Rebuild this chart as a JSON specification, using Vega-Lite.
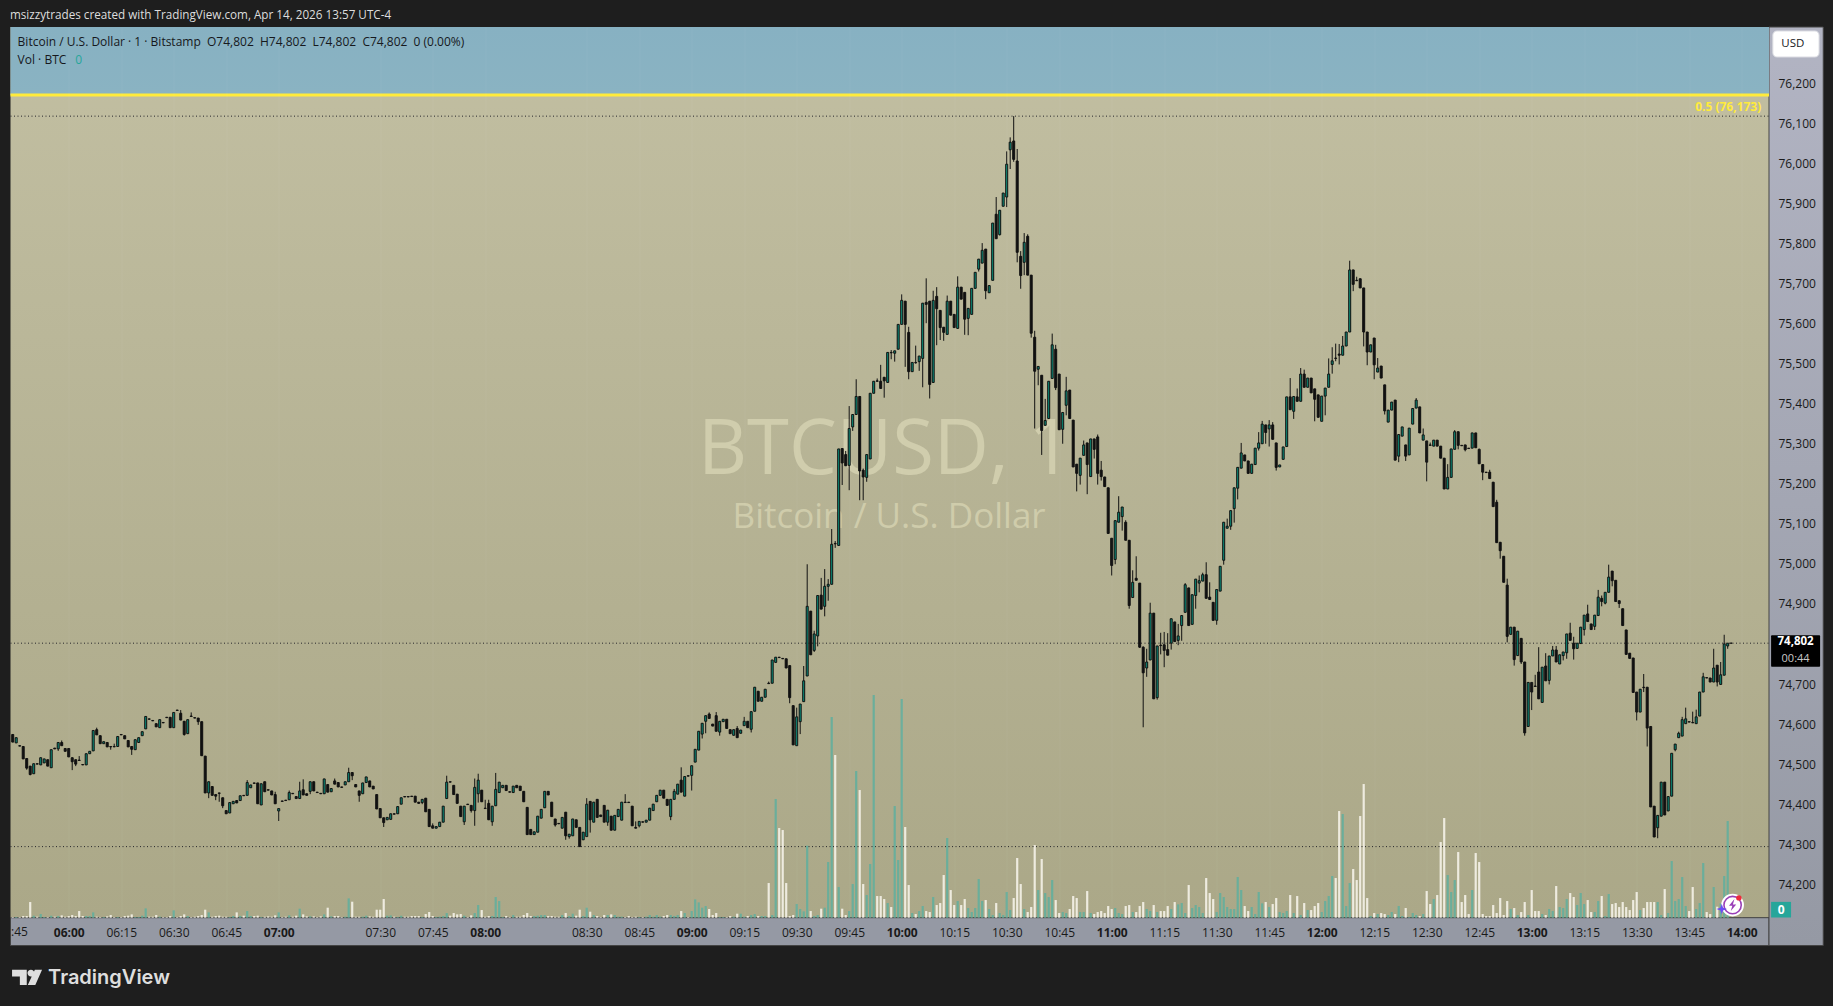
{"$schema":"https://vega.github.io/schema/vega-lite/v6.json","autosize":{"type":"none"},"width":1758.5,"height":890.7,"padding":{"left":10.5,"top":27,"right":64,"bottom":88.3},"background":"#1e1e1e","view":{"stroke":null,"fill":{"gradient":"linear","x1":0,"y1":0,"x2":0,"y2":1,"stops":[{"offset":0,"color":"#c2bfa2"},{"offset":1,"color":"#aba888"}]}},"datasets":{"bars":[
{"i":-16,"o":74574,"h":74574,"l":74555,"c":74555,"v":2},{"i":-15,"o":74553,"h":74566,"l":74553,"c":74566,"v":2},{"i":-14,"o":74546,"h":74546,"l":74545,"c":74545,"v":2},{"i":-13,"o":74544,"h":74544,"l":74513,"c":74513,"v":5},{"i":-12,"o":74514,"h":74514,"l":74486,"c":74490,"v":5},{"i":-11,"o":74495,"h":74495,"l":74472,"c":74474,"v":47},{"i":-10,"o":74476,"h":74501,"l":74476,"c":74501,"v":6},{"i":-9,"o":74501,"h":74501,"l":74500,"c":74500,"v":3},{"i":-8,"o":74498,"h":74516,"l":74498,"c":74516,"v":11},{"i":-7,"o":74503,"h":74513,"l":74503,"c":74513,"v":2},{"i":-6,"o":74511,"h":74511,"l":74495,"c":74495,"v":2},{"i":-5,"o":74491,"h":74536,"l":74491,"c":74536,"v":6},{"i":-4,"o":74540,"h":74540,"l":74538,"c":74538,"v":3},{"i":-3,"o":74538,"h":74554,"l":74533,"c":74554,"v":5},{"i":-2,"o":74554,"h":74559,"l":74546,"c":74546,"v":7},{"i":-1,"o":74539,"h":74539,"l":74532,"c":74532,"v":3},
{"i":0,"o":74539,"h":74539,"l":74518,"c":74518,"v":5},{"i":1,"o":74516,"h":74516,"l":74485,"c":74506,"v":8},{"i":2,"o":74511,"h":74511,"l":74495,"c":74500,"v":5},{"i":3,"o":74510,"h":74520,"l":74508,"c":74509,"v":20},{"i":4,"o":74499,"h":74499,"l":74498,"c":74498,"v":5},{"i":5,"o":74498,"h":74526,"l":74498,"c":74526,"v":5},{"i":6,"o":74526,"h":74532,"l":74526,"c":74532,"v":5},{"i":7,"o":74533,"h":74584,"l":74533,"c":74584,"v":16},{"i":8,"o":74586,"h":74591,"l":74573,"c":74573,"v":3},{"i":9,"o":74571,"h":74571,"l":74551,"c":74551,"v":2},{"i":10,"o":74551,"h":74556,"l":74551,"c":74556,"v":2},{"i":11,"o":74554,"h":74554,"l":74543,"c":74543,"v":4},{"i":12,"o":74544,"h":74544,"l":74536,"c":74543,"v":8},{"i":13,"o":74544,"h":74551,"l":74543,"c":74543,"v":2},{"i":14,"o":74544,"h":74569,"l":74544,"c":74569,"v":2},{"i":15,"o":74574,"h":74574,"l":74573,"c":74573,"v":2},{"i":16,"o":74571,"h":74571,"l":74563,"c":74563,"v":5},{"i":17,"o":74559,"h":74559,"l":74543,"c":74543,"v":6},{"i":18,"o":74544,"h":74544,"l":74523,"c":74537,"v":10},{"i":19,"o":74536,"h":74561,"l":74536,"c":74561,"v":2},{"i":20,"o":74554,"h":74566,"l":74554,"c":74566,"v":2},{"i":21,"o":74571,"h":74581,"l":74571,"c":74581,"v":6},{"i":22,"o":74588,"h":74619,"l":74588,"c":74619,"v":28},{"i":23,"o":74613,"h":74613,"l":74612,"c":74612,"v":3},{"i":24,"o":74609,"h":74609,"l":74608,"c":74608,"v":3},{"i":25,"o":74601,"h":74601,"l":74593,"c":74593,"v":8},{"i":26,"o":74591,"h":74611,"l":74591,"c":74611,"v":3},{"i":27,"o":74604,"h":74604,"l":74603,"c":74603,"v":2},{"i":28,"o":74617,"h":74617,"l":74616,"c":74616,"v":2},{"i":29,"o":74617,"h":74617,"l":74591,"c":74591,"v":5},{"i":30,"o":74591,"h":74629,"l":74591,"c":74629,"v":22},{"i":31,"o":74635,"h":74635,"l":74634,"c":74634,"v":2},{"i":32,"o":74627,"h":74635,"l":74610,"c":74610,"v":5},{"i":33,"o":74607,"h":74607,"l":74571,"c":74574,"v":10},{"i":34,"o":74576,"h":74611,"l":74576,"c":74611,"v":5},{"i":35,"o":74620,"h":74629,"l":74619,"c":74619,"v":2},{"i":36,"o":74616,"h":74616,"l":74615,"c":74615,"v":3},{"i":37,"o":74615,"h":74615,"l":74598,"c":74606,"v":5},{"i":38,"o":74606,"h":74606,"l":74521,"c":74521,"v":8},{"i":39,"o":74520,"h":74520,"l":74428,"c":74428,"v":24},{"i":40,"o":74428,"h":74456,"l":74415,"c":74456,"v":16},{"i":41,"o":74444,"h":74444,"l":74422,"c":74422,"v":3},{"i":42,"o":74424,"h":74424,"l":74410,"c":74420,"v":5},{"i":43,"o":74428,"h":74428,"l":74406,"c":74427,"v":6},{"i":44,"o":74416,"h":74416,"l":74390,"c":74396,"v":3},{"i":45,"o":74384,"h":74384,"l":74376,"c":74376,"v":3},{"i":46,"o":74378,"h":74404,"l":74378,"c":74404,"v":2},{"i":47,"o":74401,"h":74407,"l":74401,"c":74407,"v":5},{"i":48,"o":74409,"h":74409,"l":74403,"c":74403,"v":16},{"i":49,"o":74409,"h":74421,"l":74409,"c":74421,"v":5},{"i":50,"o":74422,"h":74422,"l":74421,"c":74421,"v":6},{"i":51,"o":74422,"h":74460,"l":74422,"c":74454,"v":20},{"i":52,"o":74441,"h":74448,"l":74441,"c":74448,"v":5},{"i":53,"o":74453,"h":74453,"l":74452,"c":74452,"v":5},{"i":54,"o":74453,"h":74453,"l":74401,"c":74401,"v":6},{"i":55,"o":74398,"h":74451,"l":74398,"c":74451,"v":2},{"i":56,"o":74456,"h":74456,"l":74431,"c":74431,"v":3},{"i":57,"o":74436,"h":74436,"l":74435,"c":74435,"v":4},{"i":58,"o":74433,"h":74433,"l":74423,"c":74423,"v":3},{"i":59,"o":74424,"h":74431,"l":74401,"c":74401,"v":7},{"i":60,"o":74383,"h":74389,"l":74358,"c":74389,"v":16},{"i":61,"o":74408,"h":74408,"l":74407,"c":74407,"v":2},{"i":62,"o":74410,"h":74410,"l":74409,"c":74409,"v":3},{"i":63,"o":74411,"h":74434,"l":74411,"c":74429,"v":7},{"i":64,"o":74427,"h":74427,"l":74426,"c":74426,"v":3},{"i":65,"o":74419,"h":74419,"l":74414,"c":74414,"v":6},{"i":66,"o":74414,"h":74456,"l":74414,"c":74433,"v":27},{"i":67,"o":74436,"h":74462,"l":74423,"c":74423,"v":10},{"i":68,"o":74426,"h":74426,"l":74422,"c":74422,"v":4},{"i":69,"o":74432,"h":74456,"l":74425,"c":74456,"v":4},{"i":70,"o":74456,"h":74456,"l":74433,"c":74433,"v":4},{"i":71,"o":74430,"h":74430,"l":74429,"c":74429,"v":2},{"i":72,"o":74427,"h":74427,"l":74426,"c":74426,"v":4},{"i":73,"o":74426,"h":74463,"l":74426,"c":74463,"v":10},{"i":74,"o":74449,"h":74449,"l":74430,"c":74430,"v":30},{"i":75,"o":74431,"h":74439,"l":74431,"c":74439,"v":4},{"i":76,"o":74458,"h":74464,"l":74450,"c":74450,"v":5},{"i":77,"o":74454,"h":74454,"l":74443,"c":74443,"v":5},{"i":78,"o":74443,"h":74443,"l":74442,"c":74442,"v":2},{"i":79,"o":74448,"h":74456,"l":74448,"c":74456,"v":3},{"i":80,"o":74456,"h":74491,"l":74456,"c":74479,"v":58},{"i":81,"o":74479,"h":74479,"l":74460,"c":74471,"v":48},{"i":82,"o":74449,"h":74449,"l":74443,"c":74443,"v":3},{"i":83,"o":74433,"h":74433,"l":74406,"c":74422,"v":3},{"i":84,"o":74426,"h":74453,"l":74426,"c":74453,"v":3},{"i":85,"o":74454,"h":74468,"l":74454,"c":74468,"v":6},{"i":86,"o":74458,"h":74458,"l":74443,"c":74443,"v":4},{"i":87,"o":74445,"h":74445,"l":74438,"c":74438,"v":3},{"i":88,"o":74424,"h":74424,"l":74388,"c":74388,"v":24},{"i":89,"o":74389,"h":74389,"l":74366,"c":74366,"v":24},{"i":90,"o":74366,"h":74366,"l":74343,"c":74354,"v":56},{"i":91,"o":74361,"h":74367,"l":74361,"c":74367,"v":6},{"i":92,"o":74362,"h":74376,"l":74362,"c":74376,"v":7},{"i":93,"o":74376,"h":74376,"l":74375,"c":74375,"v":3},{"i":94,"o":74376,"h":74394,"l":74376,"c":74394,"v":2},{"i":95,"o":74400,"h":74416,"l":74400,"c":74416,"v":6},{"i":96,"o":74419,"h":74419,"l":74418,"c":74418,"v":3},{"i":97,"o":74419,"h":74419,"l":74418,"c":74418,"v":3},{"i":98,"o":74420,"h":74420,"l":74419,"c":74419,"v":5},{"i":99,"o":74420,"h":74420,"l":74405,"c":74405,"v":5},{"i":100,"o":74405,"h":74405,"l":74402,"c":74402,"v":5},{"i":101,"o":74404,"h":74412,"l":74400,"c":74412,"v":2},{"i":102,"o":74415,"h":74415,"l":74381,"c":74381,"v":11},{"i":103,"o":74387,"h":74387,"l":74344,"c":74344,"v":17},{"i":104,"o":74346,"h":74352,"l":74340,"c":74340,"v":5},{"i":105,"o":74340,"h":74344,"l":74340,"c":74344,"v":2},{"i":106,"o":74344,"h":74355,"l":74344,"c":74355,"v":3},{"i":107,"o":74355,"h":74395,"l":74355,"c":74395,"v":5},{"i":108,"o":74414,"h":74471,"l":74414,"c":74455,"v":14},{"i":109,"o":74456,"h":74456,"l":74455,"c":74455,"v":6},{"i":110,"o":74447,"h":74447,"l":74424,"c":74424,"v":14},{"i":111,"o":74425,"h":74425,"l":74402,"c":74402,"v":10},{"i":112,"o":74395,"h":74395,"l":74369,"c":74369,"v":11},{"i":113,"o":74356,"h":74395,"l":74348,"c":74395,"v":6},{"i":114,"o":74400,"h":74400,"l":74399,"c":74399,"v":2},{"i":115,"o":74397,"h":74397,"l":74379,"c":74384,"v":7},{"i":116,"o":74384,"h":74464,"l":74346,"c":74442,"v":14},{"i":117,"o":74426,"h":74476,"l":74404,"c":74460,"v":38},{"i":118,"o":74435,"h":74435,"l":74406,"c":74406,"v":23},{"i":119,"o":74390,"h":74411,"l":74389,"c":74389,"v":3},{"i":120,"o":74402,"h":74411,"l":74361,"c":74361,"v":5},{"i":121,"o":74356,"h":74395,"l":74346,"c":74395,"v":5},{"i":122,"o":74396,"h":74478,"l":74396,"c":74437,"v":62},{"i":123,"o":74429,"h":74455,"l":74429,"c":74455,"v":50},{"i":124,"o":74441,"h":74447,"l":74441,"c":74447,"v":2},{"i":125,"o":74447,"h":74447,"l":74434,"c":74434,"v":5},{"i":126,"o":74431,"h":74431,"l":74430,"c":74430,"v":2},{"i":127,"o":74429,"h":74445,"l":74429,"c":74445,"v":8},{"i":128,"o":74447,"h":74447,"l":74441,"c":74441,"v":3},{"i":129,"o":74445,"h":74445,"l":74434,"c":74434,"v":3},{"i":130,"o":74432,"h":74432,"l":74406,"c":74406,"v":8},{"i":131,"o":74392,"h":74392,"l":74324,"c":74324,"v":14},{"i":132,"o":74337,"h":74337,"l":74324,"c":74324,"v":5},{"i":133,"o":74324,"h":74331,"l":74324,"c":74331,"v":5},{"i":134,"o":74330,"h":74370,"l":74330,"c":74370,"v":6},{"i":135,"o":74365,"h":74387,"l":74365,"c":74387,"v":8},{"i":136,"o":74391,"h":74432,"l":74391,"c":74432,"v":8},{"i":137,"o":74432,"h":74432,"l":74423,"c":74423,"v":5},{"i":138,"o":74405,"h":74405,"l":74369,"c":74369,"v":5},{"i":139,"o":74363,"h":74363,"l":74344,"c":74348,"v":3},{"i":140,"o":74352,"h":74352,"l":74351,"c":74351,"v":3},{"i":141,"o":74340,"h":74367,"l":74340,"c":74367,"v":8},{"i":142,"o":74380,"h":74380,"l":74311,"c":74321,"v":14},{"i":143,"o":74319,"h":74325,"l":74314,"c":74325,"v":5},{"i":144,"o":74321,"h":74363,"l":74321,"c":74363,"v":12},{"i":145,"o":74361,"h":74361,"l":74342,"c":74342,"v":6},{"i":146,"o":74342,"h":74342,"l":74294,"c":74294,"v":24},{"i":147,"o":74311,"h":74330,"l":74311,"c":74330,"v":5},{"i":148,"o":74319,"h":74415,"l":74319,"c":74400,"v":30},{"i":149,"o":74407,"h":74407,"l":74329,"c":74361,"v":18},{"i":150,"o":74355,"h":74405,"l":74355,"c":74405,"v":8},{"i":151,"o":74412,"h":74412,"l":74367,"c":74367,"v":5},{"i":152,"o":74373,"h":74373,"l":74369,"c":74369,"v":2},{"i":153,"o":74397,"h":74397,"l":74355,"c":74355,"v":8},{"i":154,"o":74355,"h":74385,"l":74346,"c":74385,"v":8},{"i":155,"o":74370,"h":74370,"l":74335,"c":74335,"v":10},{"i":156,"o":74335,"h":74372,"l":74335,"c":74372,"v":8},{"i":157,"o":74369,"h":74387,"l":74369,"c":74387,"v":3},{"i":158,"o":74360,"h":74405,"l":74360,"c":74405,"v":3},{"i":159,"o":74405,"h":74425,"l":74404,"c":74404,"v":2},{"i":160,"o":74405,"h":74405,"l":74404,"c":74404,"v":5},{"i":161,"o":74395,"h":74395,"l":74346,"c":74346,"v":2},{"i":162,"o":74342,"h":74357,"l":74340,"c":74340,"v":3},{"i":163,"o":74346,"h":74357,"l":74342,"c":74357,"v":2},{"i":164,"o":74356,"h":74356,"l":74355,"c":74355,"v":2},{"i":165,"o":74355,"h":74360,"l":74355,"c":74360,"v":3},{"i":166,"o":74360,"h":74390,"l":74360,"c":74390,"v":8},{"i":167,"o":74384,"h":74400,"l":74384,"c":74400,"v":3},{"i":168,"o":74406,"h":74422,"l":74406,"c":74422,"v":8},{"i":169,"o":74422,"h":74435,"l":74422,"c":74435,"v":3},{"i":170,"o":74435,"h":74435,"l":74415,"c":74415,"v":5},{"i":171,"o":74412,"h":74412,"l":74397,"c":74397,"v":8},{"i":172,"o":74369,"h":74412,"l":74360,"c":74412,"v":8},{"i":173,"o":74412,"h":74438,"l":74412,"c":74432,"v":5},{"i":174,"o":74425,"h":74450,"l":74425,"c":74450,"v":8},{"i":175,"o":74460,"h":74492,"l":74430,"c":74430,"v":20},{"i":176,"o":74420,"h":74469,"l":74420,"c":74469,"v":14},{"i":177,"o":74471,"h":74471,"l":74470,"c":74470,"v":2},{"i":178,"o":74472,"h":74496,"l":74434,"c":74496,"v":20},{"i":179,"o":74505,"h":74537,"l":74505,"c":74537,"v":55},{"i":180,"o":74535,"h":74582,"l":74535,"c":74582,"v":46},{"i":181,"o":74575,"h":74602,"l":74564,"c":74602,"v":30},{"i":182,"o":74607,"h":74621,"l":74577,"c":74621,"v":35},{"i":183,"o":74625,"h":74629,"l":74614,"c":74614,"v":26},{"i":184,"o":74600,"h":74600,"l":74595,"c":74595,"v":8},{"i":185,"o":74621,"h":74630,"l":74582,"c":74582,"v":14},{"i":186,"o":74580,"h":74607,"l":74571,"c":74607,"v":2},{"i":187,"o":74606,"h":74612,"l":74606,"c":74612,"v":2},{"i":188,"o":74612,"h":74612,"l":74589,"c":74589,"v":2},{"i":189,"o":74586,"h":74586,"l":74576,"c":74576,"v":5},{"i":190,"o":74572,"h":74586,"l":74572,"c":74586,"v":3},{"i":191,"o":74589,"h":74595,"l":74566,"c":74566,"v":12},{"i":192,"o":74577,"h":74585,"l":74577,"c":74585,"v":12},{"i":193,"o":74596,"h":74618,"l":74596,"c":74607,"v":3},{"i":194,"o":74607,"h":74607,"l":74591,"c":74591,"v":5},{"i":195,"o":74587,"h":74631,"l":74579,"c":74631,"v":8},{"i":196,"o":74632,"h":74692,"l":74632,"c":74692,"v":11},{"i":197,"o":74682,"h":74682,"l":74657,"c":74657,"v":5},{"i":198,"o":74657,"h":74667,"l":74657,"c":74667,"v":5},{"i":199,"o":74667,"h":74687,"l":74667,"c":74687,"v":5},{"i":200,"o":74702,"h":74706,"l":74701,"c":74701,"v":104},{"i":201,"o":74702,"h":74760,"l":74702,"c":74760,"v":8},{"i":202,"o":74754,"h":74767,"l":74754,"c":74767,"v":356},{"i":203,"o":74767,"h":74767,"l":74766,"c":74766,"v":269},{"i":204,"o":74764,"h":74764,"l":74763,"c":74763,"v":263},{"i":205,"o":74763,"h":74763,"l":74740,"c":74740,"v":104},{"i":206,"o":74746,"h":74746,"l":74652,"c":74666,"v":5},{"i":207,"o":74646,"h":74646,"l":74548,"c":74548,"v":8},{"i":208,"o":74546,"h":74641,"l":74546,"c":74618,"v":41},{"i":209,"o":74606,"h":74650,"l":74575,"c":74650,"v":26},{"i":210,"o":74656,"h":74745,"l":74656,"c":74708,"v":19},{"i":211,"o":74720,"h":74999,"l":74720,"c":74894,"v":216},{"i":212,"o":74882,"h":74882,"l":74773,"c":74773,"v":20},{"i":213,"o":74784,"h":74833,"l":74780,"c":74825,"v":5},{"i":214,"o":74820,"h":74921,"l":74794,"c":74921,"v":8},{"i":215,"o":74922,"h":74965,"l":74887,"c":74887,"v":27},{"i":216,"o":74894,"h":74987,"l":74869,"c":74944,"v":30},{"i":217,"o":74944,"h":74962,"l":74908,"c":74949,"v":167},{"i":218,"o":74949,"h":75087,"l":74949,"c":75049,"v":602},{"i":219,"o":75051,"h":75057,"l":75040,"c":75050,"v":488},{"i":220,"o":75046,"h":75287,"l":75046,"c":75287,"v":92},{"i":221,"o":75288,"h":75288,"l":75197,"c":75252,"v":27},{"i":222,"o":75273,"h":75282,"l":75245,"c":75245,"v":8},{"i":223,"o":75246,"h":75394,"l":75184,"c":75338,"v":20},{"i":224,"o":75342,"h":75373,"l":75332,"c":75373,"v":101},{"i":225,"o":75373,"h":75461,"l":75373,"c":75418,"v":440},{"i":226,"o":75418,"h":75418,"l":75159,"c":75232,"v":383},{"i":227,"o":75234,"h":75238,"l":75159,"c":75217,"v":101},{"i":228,"o":75216,"h":75273,"l":75205,"c":75273,"v":68},{"i":229,"o":75262,"h":75426,"l":75262,"c":75426,"v":161},{"i":230,"o":75426,"h":75456,"l":75426,"c":75456,"v":668},{"i":231,"o":75457,"h":75463,"l":75456,"c":75456,"v":65},{"i":232,"o":75456,"h":75497,"l":75438,"c":75438,"v":65},{"i":233,"o":75466,"h":75466,"l":75415,"c":75457,"v":56},{"i":234,"o":75453,"h":75528,"l":75453,"c":75528,"v":44},{"i":235,"o":75528,"h":75534,"l":75511,"c":75527,"v":32},{"i":236,"o":75526,"h":75532,"l":75505,"c":75532,"v":335},{"i":237,"o":75536,"h":75598,"l":75536,"c":75598,"v":173},{"i":238,"o":75598,"h":75673,"l":75598,"c":75658,"v":656},{"i":239,"o":75656,"h":75656,"l":75492,"c":75598,"v":272},{"i":240,"o":75578,"h":75592,"l":75461,"c":75480,"v":98},{"i":241,"o":75480,"h":75503,"l":75480,"c":75503,"v":14},{"i":242,"o":75503,"h":75545,"l":75500,"c":75502,"v":11},{"i":243,"o":75505,"h":75519,"l":75482,"c":75519,"v":20},{"i":244,"o":75513,"h":75651,"l":75441,"c":75651,"v":35},{"i":245,"o":75653,"h":75713,"l":75601,"c":75648,"v":20},{"i":246,"o":75656,"h":75656,"l":75413,"c":75448,"v":17},{"i":247,"o":75453,"h":75682,"l":75453,"c":75658,"v":62},{"i":248,"o":75668,"h":75691,"l":75546,"c":75637,"v":38},{"i":249,"o":75633,"h":75633,"l":75559,"c":75590,"v":44},{"i":250,"o":75591,"h":75591,"l":75557,"c":75578,"v":128},{"i":251,"o":75573,"h":75670,"l":75573,"c":75656,"v":239},{"i":252,"o":75656,"h":75656,"l":75621,"c":75621,"v":83},{"i":253,"o":75623,"h":75623,"l":75590,"c":75590,"v":38},{"i":254,"o":75588,"h":75718,"l":75588,"c":75691,"v":50},{"i":255,"o":75691,"h":75691,"l":75661,"c":75661,"v":38},{"i":256,"o":75678,"h":75678,"l":75572,"c":75611,"v":56},{"i":257,"o":75613,"h":75638,"l":75571,"c":75638,"v":29},{"i":258,"o":75623,"h":75688,"l":75623,"c":75688,"v":17},{"i":259,"o":75688,"h":75728,"l":75688,"c":75728,"v":29},{"i":260,"o":75736,"h":75761,"l":75730,"c":75761,"v":116},{"i":261,"o":75751,"h":75801,"l":75751,"c":75783,"v":50},{"i":262,"o":75786,"h":75786,"l":75661,"c":75682,"v":53},{"i":263,"o":75677,"h":75695,"l":75677,"c":75695,"v":26},{"i":264,"o":75708,"h":75851,"l":75708,"c":75851,"v":8},{"i":265,"o":75873,"h":75916,"l":75812,"c":75812,"v":44},{"i":266,"o":75822,"h":75883,"l":75820,"c":75883,"v":14},{"i":267,"o":75893,"h":75926,"l":75893,"c":75926,"v":8},{"i":268,"o":75916,"h":76030,"l":75891,"c":75998,"v":77},{"i":269,"o":76034,"h":76065,"l":75986,"c":76053,"v":23},{"i":270,"o":76056,"h":76118,"l":76004,"c":76010,"v":59},{"i":271,"o":76006,"h":76036,"l":75753,"c":75778,"v":179},{"i":272,"o":75768,"h":75781,"l":75687,"c":75720,"v":101},{"i":273,"o":75753,"h":75826,"l":75721,"c":75803,"v":26},{"i":274,"o":75818,"h":75823,"l":75721,"c":75721,"v":17},{"i":275,"o":75721,"h":75721,"l":75565,"c":75576,"v":32},{"i":276,"o":75566,"h":75582,"l":75338,"c":75481,"v":218},{"i":277,"o":75486,"h":75493,"l":75446,"c":75493,"v":83},{"i":278,"o":75471,"h":75471,"l":75272,"c":75333,"v":176},{"i":279,"o":75346,"h":75412,"l":75346,"c":75358,"v":74},{"i":280,"o":75363,"h":75456,"l":75363,"c":75456,"v":62},{"i":281,"o":75463,"h":75575,"l":75463,"c":75547,"v":113},{"i":282,"o":75536,"h":75547,"l":75434,"c":75440,"v":53},{"i":283,"o":75474,"h":75474,"l":75335,"c":75335,"v":14},{"i":284,"o":75336,"h":75378,"l":75300,"c":75378,"v":17},{"i":285,"o":75396,"h":75467,"l":75371,"c":75432,"v":14},{"i":286,"o":75434,"h":75434,"l":75363,"c":75363,"v":26},{"i":287,"o":75359,"h":75359,"l":75242,"c":75242,"v":65},{"i":288,"o":75249,"h":75249,"l":75181,"c":75226,"v":59},{"i":289,"o":75221,"h":75264,"l":75198,"c":75264,"v":17},{"i":290,"o":75271,"h":75308,"l":75271,"c":75297,"v":17},{"i":291,"o":75302,"h":75302,"l":75174,"c":75248,"v":80},{"i":292,"o":75218,"h":75312,"l":75218,"c":75312,"v":14},{"i":293,"o":75312,"h":75312,"l":75263,"c":75286,"v":11},{"i":294,"o":75317,"h":75323,"l":75198,"c":75226,"v":17},{"i":295,"o":75234,"h":75257,"l":75208,"c":75218,"v":20},{"i":296,"o":75217,"h":75217,"l":75193,"c":75193,"v":14},{"i":297,"o":75190,"h":75190,"l":75076,"c":75076,"v":35},{"i":298,"o":75064,"h":75064,"l":74971,"c":74996,"v":26},{"i":299,"o":75011,"h":75108,"l":74999,"c":75108,"v":29},{"i":300,"o":75104,"h":75169,"l":75104,"c":75129,"v":14},{"i":301,"o":75118,"h":75142,"l":75083,"c":75142,"v":11},{"i":302,"o":75104,"h":75109,"l":75059,"c":75059,"v":35},{"i":303,"o":75059,"h":75059,"l":74888,"c":74896,"v":38},{"i":304,"o":74916,"h":74984,"l":74916,"c":74954,"v":17},{"i":305,"o":74964,"h":75019,"l":74959,"c":74959,"v":17},{"i":306,"o":74952,"h":74952,"l":74790,"c":74792,"v":35},{"i":307,"o":74792,"h":74794,"l":74592,"c":74728,"v":47},{"i":308,"o":74740,"h":74788,"l":74718,"c":74755,"v":26},{"i":309,"o":74760,"h":74903,"l":74760,"c":74877,"v":20},{"i":310,"o":74877,"h":74877,"l":74663,"c":74663,"v":38},{"i":311,"o":74666,"h":74795,"l":74661,"c":74795,"v":17},{"i":312,"o":74797,"h":74828,"l":74774,"c":74796,"v":20},{"i":313,"o":74798,"h":74830,"l":74742,"c":74784,"v":20},{"i":314,"o":74786,"h":74827,"l":74772,"c":74772,"v":35},{"i":315,"o":74802,"h":74863,"l":74786,"c":74863,"v":26},{"i":316,"o":74855,"h":74855,"l":74806,"c":74806,"v":47},{"i":317,"o":74809,"h":74850,"l":74797,"c":74820,"v":40},{"i":318,"o":74846,"h":74871,"l":74808,"c":74871,"v":44},{"i":319,"o":74879,"h":74952,"l":74879,"c":74948,"v":14},{"i":320,"o":74940,"h":74940,"l":74846,"c":74846,"v":98},{"i":321,"o":74849,"h":74923,"l":74849,"c":74923,"v":29},{"i":322,"o":74921,"h":74962,"l":74888,"c":74962,"v":38},{"i":323,"o":74952,"h":74971,"l":74929,"c":74958,"v":32},{"i":324,"o":74957,"h":74978,"l":74957,"c":74973,"v":14},{"i":325,"o":74973,"h":75004,"l":74914,"c":74914,"v":119},{"i":326,"o":74917,"h":74954,"l":74911,"c":74911,"v":74},{"i":327,"o":74904,"h":74904,"l":74859,"c":74859,"v":56},{"i":328,"o":74859,"h":74936,"l":74848,"c":74936,"v":17},{"i":329,"o":74932,"h":74994,"l":74932,"c":74994,"v":74},{"i":330,"o":75009,"h":75104,"l":74998,"c":75104,"v":62},{"i":331,"o":75089,"h":75113,"l":75089,"c":75094,"v":32},{"i":332,"o":75094,"h":75133,"l":75085,"c":75133,"v":26},{"i":333,"o":75138,"h":75190,"l":75103,"c":75190,"v":26},{"i":334,"o":75189,"h":75241,"l":75161,"c":75241,"v":122},{"i":335,"o":75239,"h":75302,"l":75239,"c":75277,"v":83},{"i":336,"o":75272,"h":75272,"l":75257,"c":75257,"v":35},{"i":337,"o":75257,"h":75257,"l":75226,"c":75226,"v":20},{"i":338,"o":75226,"h":75249,"l":75226,"c":75249,"v":32},{"i":339,"o":75248,"h":75289,"l":75248,"c":75289,"v":11},{"i":340,"o":75289,"h":75329,"l":75283,"c":75302,"v":77},{"i":341,"o":75300,"h":75357,"l":75300,"c":75349,"v":43},{"i":342,"o":75347,"h":75347,"l":75300,"c":75328,"v":47},{"i":343,"o":75337,"h":75359,"l":75293,"c":75347,"v":32},{"i":344,"o":75347,"h":75354,"l":75311,"c":75311,"v":41},{"i":345,"o":75302,"h":75302,"l":75233,"c":75241,"v":59},{"i":346,"o":75242,"h":75247,"l":75242,"c":75247,"v":17},{"i":347,"o":75261,"h":75292,"l":75261,"c":75292,"v":14},{"i":348,"o":75293,"h":75417,"l":75293,"c":75417,"v":20},{"i":349,"o":75417,"h":75464,"l":75385,"c":75385,"v":68},{"i":350,"o":75381,"h":75418,"l":75362,"c":75418,"v":14},{"i":351,"o":75417,"h":75438,"l":75406,"c":75406,"v":65},{"i":352,"o":75406,"h":75489,"l":75406,"c":75474,"v":8},{"i":353,"o":75474,"h":75485,"l":75441,"c":75441,"v":44},{"i":354,"o":75441,"h":75464,"l":75441,"c":75464,"v":23},{"i":355,"o":75464,"h":75464,"l":75427,"c":75427,"v":23},{"i":356,"o":75437,"h":75437,"l":75356,"c":75411,"v":35},{"i":357,"o":75422,"h":75422,"l":75366,"c":75366,"v":44},{"i":358,"o":75356,"h":75419,"l":75356,"c":75419,"v":17},{"i":359,"o":75419,"h":75439,"l":75371,"c":75439,"v":50},{"i":360,"o":75441,"h":75513,"l":75441,"c":75474,"v":65},{"i":361,"o":75498,"h":75541,"l":75475,"c":75507,"v":125},{"i":362,"o":75514,"h":75550,"l":75506,"c":75513,"v":119},{"i":363,"o":75524,"h":75549,"l":75498,"c":75521,"v":320},{"i":364,"o":75521,"h":75569,"l":75521,"c":75544,"v":311},{"i":365,"o":75544,"h":75579,"l":75544,"c":75579,"v":35},{"i":366,"o":75579,"h":75757,"l":75579,"c":75734,"v":104},{"i":367,"o":75734,"h":75734,"l":75681,"c":75698,"v":146},{"i":368,"o":75708,"h":75717,"l":75707,"c":75707,"v":113},{"i":369,"o":75712,"h":75712,"l":75689,"c":75689,"v":305},{"i":370,"o":75689,"h":75689,"l":75543,"c":75579,"v":401},{"i":371,"o":75579,"h":75579,"l":75496,"c":75529,"v":59},{"i":372,"o":75529,"h":75547,"l":75529,"c":75547,"v":5},{"i":373,"o":75564,"h":75564,"l":75461,"c":75497,"v":14},{"i":374,"o":75479,"h":75514,"l":75479,"c":75489,"v":11},{"i":375,"o":75494,"h":75494,"l":75464,"c":75464,"v":14},{"i":376,"o":75447,"h":75447,"l":75373,"c":75382,"v":11},{"i":377,"o":75354,"h":75384,"l":75354,"c":75384,"v":8},{"i":378,"o":75384,"h":75404,"l":75384,"c":75404,"v":17},{"i":379,"o":75409,"h":75409,"l":75259,"c":75259,"v":11},{"i":380,"o":75269,"h":75323,"l":75254,"c":75323,"v":35},{"i":381,"o":75319,"h":75342,"l":75319,"c":75342,"v":5},{"i":382,"o":75297,"h":75297,"l":75257,"c":75269,"v":29},{"i":383,"o":75272,"h":75339,"l":75272,"c":75339,"v":2},{"i":384,"o":75349,"h":75388,"l":75349,"c":75388,"v":14},{"i":385,"o":75389,"h":75414,"l":75389,"c":75409,"v":8},{"i":386,"o":75392,"h":75392,"l":75327,"c":75327,"v":5},{"i":387,"o":75309,"h":75338,"l":75309,"c":75322,"v":11},{"i":388,"o":75307,"h":75307,"l":75206,"c":75254,"v":80},{"i":389,"o":75297,"h":75303,"l":75296,"c":75296,"v":41},{"i":390,"o":75294,"h":75309,"l":75294,"c":75309,"v":56},{"i":391,"o":75309,"h":75309,"l":75294,"c":75294,"v":68},{"i":392,"o":75294,"h":75294,"l":75264,"c":75264,"v":227},{"i":393,"o":75264,"h":75264,"l":75187,"c":75187,"v":299},{"i":394,"o":75187,"h":75249,"l":75187,"c":75216,"v":128},{"i":395,"o":75216,"h":75287,"l":75216,"c":75287,"v":77},{"i":396,"o":75286,"h":75334,"l":75286,"c":75330,"v":113},{"i":397,"o":75330,"h":75330,"l":75286,"c":75296,"v":197},{"i":398,"o":75296,"h":75296,"l":75295,"c":75295,"v":47},{"i":399,"o":75297,"h":75297,"l":75281,"c":75285,"v":68},{"i":400,"o":75289,"h":75289,"l":75288,"c":75288,"v":11},{"i":401,"o":75289,"h":75327,"l":75289,"c":75327,"v":83},{"i":402,"o":75327,"h":75327,"l":75290,"c":75290,"v":194},{"i":403,"o":75286,"h":75288,"l":75250,"c":75250,"v":167},{"i":404,"o":75248,"h":75248,"l":75209,"c":75229,"v":11},{"i":405,"o":75229,"h":75229,"l":75228,"c":75228,"v":5},{"i":406,"o":75229,"h":75235,"l":75213,"c":75213,"v":5},{"i":407,"o":75204,"h":75204,"l":75143,"c":75143,"v":38},{"i":408,"o":75154,"h":75160,"l":75053,"c":75053,"v":14},{"i":409,"o":75054,"h":75054,"l":75013,"c":75033,"v":59},{"i":410,"o":75019,"h":75019,"l":74954,"c":74954,"v":8},{"i":411,"o":74947,"h":74963,"l":74804,"c":74819,"v":50},{"i":412,"o":74824,"h":74842,"l":74824,"c":74842,"v":26},{"i":413,"o":74842,"h":74842,"l":74746,"c":74761,"v":29},{"i":414,"o":74771,"h":74832,"l":74771,"c":74832,"v":8},{"i":415,"o":74814,"h":74814,"l":74750,"c":74755,"v":17},{"i":416,"o":74755,"h":74755,"l":74571,"c":74578,"v":47},{"i":417,"o":74594,"h":74704,"l":74594,"c":74704,"v":8},{"i":418,"o":74704,"h":74704,"l":74635,"c":74680,"v":83},{"i":419,"o":74695,"h":74723,"l":74694,"c":74694,"v":20},{"i":420,"o":74730,"h":74792,"l":74663,"c":74663,"v":20},{"i":421,"o":74654,"h":74742,"l":74654,"c":74742,"v":11},{"i":422,"o":74745,"h":74777,"l":74708,"c":74708,"v":8},{"i":423,"o":74709,"h":74770,"l":74699,"c":74770,"v":26},{"i":424,"o":74770,"h":74795,"l":74770,"c":74785,"v":20},{"i":425,"o":74785,"h":74795,"l":74755,"c":74755,"v":95},{"i":426,"o":74750,"h":74773,"l":74750,"c":74773,"v":32},{"i":427,"o":74771,"h":74780,"l":74759,"c":74780,"v":29},{"i":428,"o":74778,"h":74825,"l":74763,"c":74825,"v":56},{"i":429,"o":74827,"h":74853,"l":74809,"c":74809,"v":74},{"i":430,"o":74802,"h":74818,"l":74761,"c":74788,"v":62},{"i":431,"o":74789,"h":74802,"l":74789,"c":74802,"v":38},{"i":432,"o":74801,"h":74842,"l":74801,"c":74842,"v":74},{"i":433,"o":74836,"h":74872,"l":74821,"c":74872,"v":41},{"i":434,"o":74875,"h":74898,"l":74856,"c":74856,"v":53},{"i":435,"o":74850,"h":74850,"l":74836,"c":74836,"v":17},{"i":436,"o":74844,"h":74872,"l":74835,"c":74872,"v":17},{"i":437,"o":74871,"h":74935,"l":74871,"c":74917,"v":50},{"i":438,"o":74914,"h":74921,"l":74894,"c":74906,"v":65},{"i":439,"o":74902,"h":74929,"l":74899,"c":74929,"v":5},{"i":440,"o":74929,"h":74998,"l":74929,"c":74967,"v":71},{"i":441,"o":74982,"h":74982,"l":74944,"c":74958,"v":41},{"i":442,"o":74959,"h":74959,"l":74906,"c":74906,"v":44},{"i":443,"o":74908,"h":74908,"l":74890,"c":74901,"v":32},{"i":444,"o":74888,"h":74888,"l":74846,"c":74846,"v":47},{"i":445,"o":74835,"h":74835,"l":74774,"c":74774,"v":32},{"i":446,"o":74777,"h":74777,"l":74764,"c":74764,"v":23},{"i":447,"o":74765,"h":74765,"l":74679,"c":74679,"v":53},{"i":448,"o":74680,"h":74680,"l":74609,"c":74630,"v":77},{"i":449,"o":74630,"h":74687,"l":74630,"c":74687,"v":23},{"i":450,"o":74692,"h":74725,"l":74680,"c":74691,"v":29},{"i":451,"o":74692,"h":74692,"l":74544,"c":74590,"v":47},{"i":452,"o":74594,"h":74594,"l":74393,"c":74393,"v":47},{"i":453,"o":74395,"h":74395,"l":74318,"c":74318,"v":47},{"i":454,"o":74341,"h":74372,"l":74315,"c":74372,"v":47},{"i":455,"o":74370,"h":74455,"l":74370,"c":74455,"v":8},{"i":456,"o":74455,"h":74455,"l":74373,"c":74373,"v":86},{"i":457,"o":74383,"h":74419,"l":74383,"c":74419,"v":14},{"i":458,"o":74420,"h":74527,"l":74420,"c":74527,"v":170},{"i":459,"o":74536,"h":74550,"l":74532,"c":74550,"v":50},{"i":460,"o":74566,"h":74581,"l":74566,"c":74577,"v":56},{"i":461,"o":74570,"h":74618,"l":74570,"c":74611,"v":122},{"i":462,"o":74601,"h":74641,"l":74601,"c":74613,"v":35},{"i":463,"o":74606,"h":74606,"l":74605,"c":74605,"v":20},{"i":464,"o":74604,"h":74631,"l":74603,"c":74603,"v":92},{"i":465,"o":74601,"h":74636,"l":74601,"c":74618,"v":26},{"i":466,"o":74620,"h":74680,"l":74620,"c":74680,"v":44},{"i":467,"o":74680,"h":74728,"l":74680,"c":74718,"v":164},{"i":468,"o":74716,"h":74716,"l":74715,"c":74715,"v":17},{"i":469,"o":74715,"h":74715,"l":74705,"c":74705,"v":11},{"i":470,"o":74705,"h":74788,"l":74705,"c":74740,"v":92},{"i":471,"o":74747,"h":74747,"l":74694,"c":74705,"v":33},{"i":472,"o":74699,"h":74755,"l":74699,"c":74723,"v":43},{"i":473,"o":74722,"h":74823,"l":74722,"c":74800,"v":125},{"i":474,"o":74795,"h":74802,"l":74788,"c":74802,"v":290},{"i":475,"o":74802,"h":74802,"l":74802,"c":74802,"v":0}
]},"encoding":{"x":{"field":"i","type":"quantitative","title":null,"scale":{"domain":[-16.63,485.8],"nice":false,"zero":false,"padding":0},"axis":{"values":[0,15,30,45,60,89,104,119,148,163,178,193,208,223,238,253,268,283,298,313,328,343,358,373,388,403,418,433,448,463,478],"labelExpr":"['06:00','06:15','06:30','06:45','07:00','07:30','07:45','08:00','08:30','08:45','09:00','09:15','09:30','09:45','10:00','10:15','10:30','10:45','11:00','11:15','11:30','11:45','12:00','12:15','12:30','12:45','13:00','13:15','13:30','13:45','14:00'][indexof([0,15,30,45,60,89,104,119,148,163,178,193,208,223,238,253,268,283,298,313,328,343,358,373,388,403,418,433,448,463,478],datum.value)]","labelFontWeight":{"condition":{"test":"indexof([0,60,119,178,238,298,358,418,478],datum.value)>=0","value":"bold"},"value":"normal"},"labelFont":"Open Sans","labelFontSize":12,"labelColor":"#1a1a1a","labelBaseline":"middle","labelPadding":15,"ticks":false,"domain":false,"grid":true,"gridColor":"#ffffff","gridOpacity":0.05,"labelOverlap":false,"labelBound":false,"labelFlush":false,"zindex":2}},"y":{"field":"p","type":"quantitative","title":null,"axis":null,"scale":{"domain":[74116.5,76340.6],"nice":false,"zero":false}}},"layer":[
{"data":{"values":[{"i":-16.63,"b":485.8,"p":74116.5,"u":74047}]},"mark":{"type":"rect","color":"#9599a4","stroke":"#444444","strokeWidth":1},"encoding":{"x2":{"field":"b"},"y2":{"field":"u"}}},
{"data":{"values":[{"i":485.8,"b":501.3,"p":76340.6,"u":74047}]},"mark":{"type":"rect","color":{"gradient":"linear","x1":0,"y1":0,"x2":0,"y2":1,"stops":[{"offset":0,"color":"#b2b4c3"},{"offset":1,"color":"#9599a4"}]},"stroke":"#444444","strokeWidth":1},"encoding":{"x2":{"field":"b"},"y":{"field":"p","type":"quantitative","title":null,"scale":{"domain":[74116.5,76340.6],"nice":false,"zero":false},"axis":{"orient":"right","values":[74200,74300,74400,74500,74600,74700,74900,75000,75100,75200,75300,75400,75500,75600,75700,75800,75900,76000,76100,76200],"format":",.0f","labelFont":"Open Sans","labelFontSize":12,"labelColor":"#1a1a1a","labelAlign":"left","labelPadding":9,"ticks":false,"domain":false,"grid":false,"labelOverlap":false,"labelBound":false,"zindex":2}},"y2":{"field":"u"}}},
{"data":{"values":[{"i":-16.63,"b":485.8,"p":76340.6,"u":76171}]},"mark":{"type":"rect","color":{"gradient":"linear","x1":0,"y1":0,"x2":0,"y2":1,"stops":[{"offset":0,"color":"#87b1c2"},{"offset":1,"color":"#8ab3c2"}]}},"encoding":{"x2":{"field":"b"},"y2":{"field":"u"}}},
{"data":{"values":[{"s":"BTCUSD, 1","i":233.2,"p":75283}]},"mark":{"type":"text","font":"Open Sans","fontSize":76,"color":"#d0cdad","baseline":"middle"},"encoding":{"text":{"field":"s"}}},
{"data":{"values":[{"s":"Bitcoin / U.S. Dollar","i":234.4,"p":75116}]},"mark":{"type":"text","font":"Open Sans","fontSize":35,"color":"#cfccab","baseline":"middle"},"encoding":{"text":{"field":"s"}}},
{"data":{"name":"bars"},"mark":{"type":"bar","size":2.2,"orient":"vertical"},"encoding":{"y":{"field":"v","type":"quantitative","axis":null,"scale":{"domain":[0,2672],"nice":false}},"color":{"condition":{"test":"datum.c>datum.o","value":"#6aae9b"},"value":"#eeebdf"}}},
{"data":{"values":[{"i":-16.63,"b":485.8,"p":76118},{"i":-16.63,"b":485.8,"p":74802},{"i":-16.63,"b":485.8,"p":74294}]},"mark":{"type":"rule","color":"#26262a","strokeWidth":1,"strokeDash":[1,2.5]},"encoding":{"x2":{"field":"b"}}},
{"data":{"values":[{"i":-16.63,"b":485.8,"p":76171}]},"mark":{"type":"rule","color":"#ffeb3b","strokeWidth":3},"encoding":{"x2":{"field":"b"}}},
{"data":{"name":"bars"},"mark":{"type":"rule","color":"#111111","strokeWidth":1},"encoding":{"y":{"field":"h","type":"quantitative","axis":null,"scale":{"domain":[74116.5,76340.6],"nice":false,"zero":false}},"y2":{"field":"l"}}},
{"data":{"name":"bars"},"mark":{"type":"bar","size":2,"orient":"vertical","stroke":"#111111","strokeWidth":1},"encoding":{"y":{"field":"o","type":"quantitative","axis":null,"scale":{"domain":[74116.5,76340.6],"nice":false,"zero":false}},"y2":{"field":"c"},"color":{"condition":{"test":"datum.c>datum.o","value":"#0a8f7b"},"value":"#111111"}}},
{"data":{"values":[{"s":"0.5 (76,173)","i":483.6,"p":76141.6}]},"mark":{"type":"text","font":"Open Sans","fontSize":12,"fontWeight":"bold","color":"#ffeb3b","align":"right","baseline":"middle"},"encoding":{"text":{"field":"s"}}},
{"data":{"values":[{"s":"msizzytrades created with TradingView.com, Apr 14, 2026 13:57 UTC-4","i":-16.8,"p":76370.5}]},"mark":{"type":"text","font":"Open Sans","fontSize":11.7,"color":"#dddddd","align":"left","baseline":"middle"},"encoding":{"text":{"field":"s"}}},
{"data":{"values":[{"s":"Bitcoin / U.S. Dollar · 1 · Bitstamp\u00a0\u00a0O74,802\u00a0\u00a0H74,802\u00a0\u00a0L74,802\u00a0\u00a0C74,802\u00a0\u00a00 (0.00%)","i":-14.6,"p":76302.6},{"s":"Vol · BTC","i":-14.6,"p":76257}]},"mark":{"type":"text","font":"Open Sans","fontSize":12,"color":"#16181c","align":"left","baseline":"middle"},"encoding":{"text":{"field":"s"}}},
{"data":{"values":[{"s":"0","i":1.9,"p":76257}]},"mark":{"type":"text","font":"Open Sans","fontSize":12,"color":"#26a69a","align":"left","baseline":"middle"},"encoding":{"text":{"field":"s"}}},
{"data":{"values":[{"i":486.9,"b":500.1,"p":76330.6,"u":76265.7}]},"mark":{"type":"rect","color":"#ffffff","cornerRadius":4,"stroke":"#dcdde3","strokeWidth":1},"encoding":{"x2":{"field":"b"},"y2":{"field":"u"}}},
{"data":{"values":[{"s":"USD","i":492.6,"p":76298}]},"mark":{"type":"text","font":"Open Sans","fontSize":11.5,"color":"#16181c","baseline":"middle"},"encoding":{"text":{"field":"s"}}},
{"data":{"values":[{"i":486.4,"b":500.4,"p":74822,"u":74743}]},"mark":{"type":"rect","color":"#000000","cornerRadius":1},"encoding":{"x2":{"field":"b"},"y2":{"field":"u"}}},
{"data":{"values":[{"s":"74,802","i":493.4,"p":74804}]},"mark":{"type":"text","font":"Open Sans","fontSize":11.5,"fontWeight":"bold","color":"#ffffff","baseline":"middle"},"encoding":{"text":{"field":"s"}}},
{"data":{"values":[{"s":"00:44","i":493.4,"p":74763}]},"mark":{"type":"text","font":"Open Sans","fontSize":11,"color":"#c8c8c8","baseline":"middle"},"encoding":{"text":{"field":"s"}}},
{"data":{"values":[{"i":486.4,"b":492.1,"p":74156,"u":74117}]},"mark":{"type":"rect","color":"#26a69a"},"encoding":{"x2":{"field":"b"},"y2":{"field":"u"}}},
{"data":{"values":[{"s":"0","i":489.3,"p":74136}]},"mark":{"type":"text","font":"Open Sans","fontSize":12,"fontWeight":"bold","color":"#ffffff","baseline":"middle"},"encoding":{"text":{"field":"s"}}},
{"data":{"values":[{"s":":45","i":-14.05,"p":74081}]},"mark":{"type":"text","font":"Open Sans","fontSize":12,"color":"#1a1a1a","baseline":"middle"},"encoding":{"text":{"field":"s"}}},
{"data":{"values":[{"s":"TradingView","i":-5.9,"p":73965}]},"mark":{"type":"text","font":"Inter","fontSize":20,"fontWeight":600,"color":"#dedede","align":"left","baseline":"middle"},"encoding":{"text":{"field":"s"}}},
{"data":{"values":[{"i":-11.9,"p":73968}]},"mark":{"type":"point","filled":true,"opacity":1,"size":900,"color":"#dedede","shape":"M-1 -.5L-.02 -.5L-.02 .52L-.48 .52L-.48 -.05L-1 -.05ZM.26 -.5A.23 .23 0 1 1 .26 -.04A.23 .23 0 1 1 .26 -.5ZM.52 -.5L1 -.5L.55 .52L.05 .52Z"}},
{"data":{"values":[{"i":475.4,"p":74148}]},"mark":{"type":"point","filled":true,"opacity":1,"size":430,"color":"#ffffff","stroke":"#ffffff","shape":"circle"}},
{"data":{"values":[{"i":475.4,"p":74148}]},"mark":{"type":"point","filled":false,"opacity":1,"size":300,"stroke":"#9a3fb8","strokeWidth":1.6,"shape":"circle"}},
{"data":{"values":[{"i":475.4,"p":74148}]},"mark":{"type":"point","filled":true,"opacity":1,"size":144,"color":"#9a3fb8","shape":"M.3 -1L-.6 .1L-.05 .1L-.3 1L.6 -.1L.05 -.1Z"}},
{"data":{"values":[{"i":472.3,"p":74138}]},"mark":{"type":"point","filled":true,"opacity":1,"size":110,"color":"#6a4df5","shape":"M0 -1L.25 -.25L1 0L.25 .25L0 1L-.25 .25L-1 0L-.25 -.25Z"}},
{"data":{"values":[{"i":477.2,"p":74166}]},"mark":{"type":"point","filled":true,"opacity":1,"size":30,"color":"#ee2b3b","shape":"circle"}}
],"resolve":{"scale":{"y":"independent"}}}
